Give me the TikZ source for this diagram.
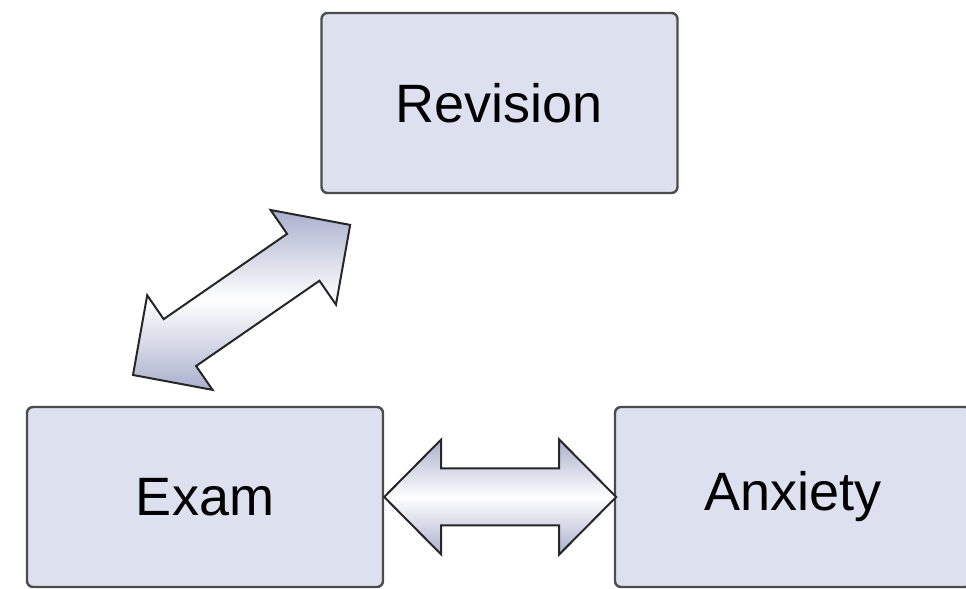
\documentclass[tikz,border=0pt]{standalone}
\usepackage{fontspec}
\setmainfont{Liberation Sans}

\begin{document}
\begin{tikzpicture}[x=0.5pt,y=0.5pt,
  box/.style={draw=black!70,line width=1.2pt,fill=boxfill,rounded corners=3pt,
    minimum width=178pt,minimum height=90pt,font=\fontsize{27}{32}\selectfont},
  pics/dblarrow/.style={code={
    \draw[draw=black!85,line width=1pt,top color=arrowtint,bottom color=arrowtint,
      middle color=white,line join=miter]
      (0,0) -- (57,57.5) -- (57,28.5) -- (#1-57,28.5) -- (#1-57,57.5) -- (#1,0)
      -- (#1-57,-57.5) -- (#1-57,-28.5) -- (57,-28.5) -- (57,-57.5) -- cycle;
  }}]

\definecolor{boxfill}{RGB}{221,225,239}
\definecolor{arrowtint}{RGB}{170,176,205}

\useasboundingbox (0,0) rectangle (966,589);

\node[box] (revision) at (499.5,486) {Revision};
\node[box] (exam) at (205,92) {Exam};
\node[box] (anxiety) at (793,92) {Anxiety};

\coordinate (examtip) at (exam.east);
\coordinate (lowtip) at (133,214);

\pic (examanxiety) at (examtip) {dblarrow=232};
\pic[rotate=34.65] (examrevision) at (lowtip) {dblarrow=264};

\end{tikzpicture}
\end{document}
